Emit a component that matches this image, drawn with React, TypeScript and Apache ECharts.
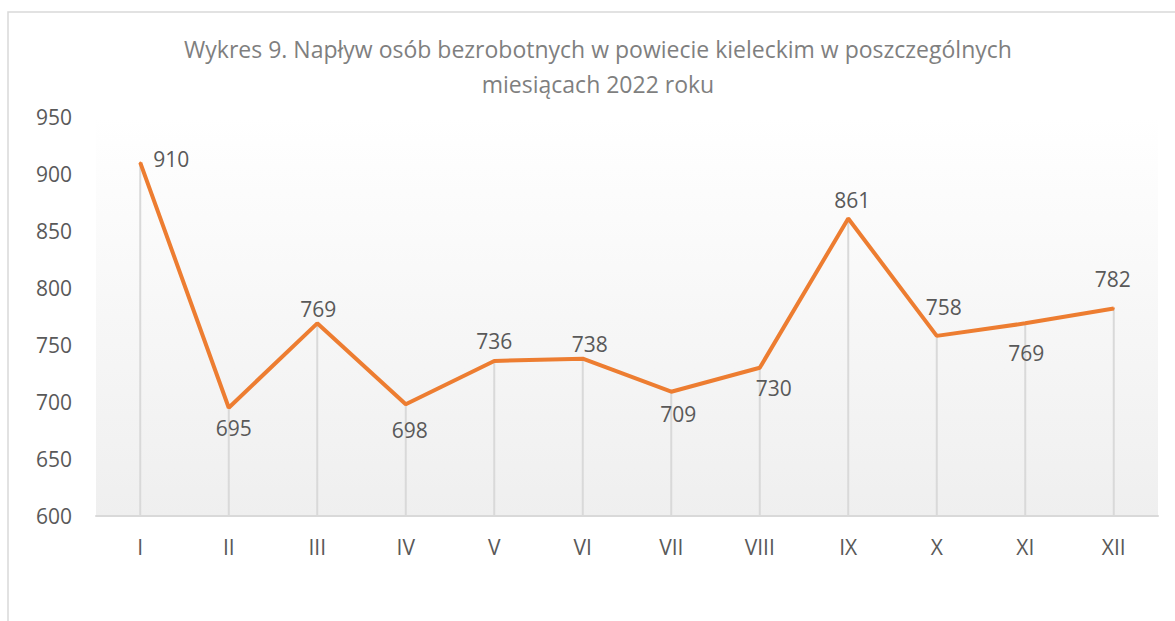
import React, { useEffect, useRef } from "react";
import * as echarts from "echarts";

const titleText =
  "Wykres 9. Napływ osób bezrobotnych w powiecie kieleckim w poszczególnych\nmiesiącach 2022 roku";
const months = ["I", "II", "III", "IV", "V", "VI", "VII", "VIII", "IX", "X", "XI", "XII"];
const values = [910, 695, 769, 698, 736, 738, 709, 730, 861, 758, 769, 782];
const yMin = 600;
const yMax = 950;
const yStep = 50;
// label offsets relative to the point (style only)
const labelOffsets: [number, number][] = [
  [31, -4], [5, 20], [1, -14], [4, 26], [0, -20], [7, -15],
  [7, 22], [14, 20], [4, -18], [7, -29], [1, 30], [-1, -30],
];

export default function App() {
  const ref = useRef<HTMLDivElement>(null);
  useEffect(() => {
    if (!ref.current) return;
    const chart = echarts.init(ref.current, null, { renderer: "svg" });
    const font = "'Open Sans', 'Noto Sans', sans-serif";
    chart.setOption({
      animation: false,
      backgroundColor: "#ffffff",
      title: {
        text: titleText,
        left: 593,
        top: 26,
        textAlign: "center",
        textStyle: {
          fontFamily: font,
          fontSize: 23,
          fontWeight: "normal",
          color: "#7f7f7f",
          lineHeight: 35,
        },
      },
      graphic: [
        {
          type: "rect",
          shape: { x: 8, y: 12, width: 1200, height: 700 },
          style: { fill: "none", stroke: "#d9d9d9", lineWidth: 1.5 },
          silent: true,
          z: -10,
        },
      ],
      grid: {
        left: 96,
        right: 17,
        top: 117,
        bottom: 105,
        show: true,
        borderWidth: 0,
        backgroundColor: new echarts.graphic.LinearGradient(0, 0, 0, 1, [
          { offset: 0, color: "#ffffff" },
          { offset: 1, color: "#efefef" },
        ]),
      },
      xAxis: {
        type: "category",
        data: months,
        boundaryGap: true,
        axisLine: { show: true, lineStyle: { color: "#d9d9d9", width: 2 } },
        axisTick: { show: false },
        splitLine: { show: false },
        axisLabel: {
          color: "#595959",
          fontFamily: font,
          fontSize: 21,
          margin: 20,
        },
      },
      yAxis: {
        type: "value",
        min: yMin,
        max: yMax,
        interval: yStep,
        axisLine: { show: false },
        axisTick: { show: false },
        splitLine: { show: false },
        axisLabel: {
          color: "#595959",
          fontFamily: font,
          fontSize: 21,
          margin: 24,
        },
      },
      series: [
        {
          type: "bar",
          data: values,
          barWidth: 2,
          itemStyle: { color: "#d9d9d9" },
          silent: true,
          z: 1,
        },
        {
          type: "line",
          data: values.map((v, i) => ({
            value: v,
            label: { offset: labelOffsets[i] },
          })),
          symbol: "circle",
          symbolSize: 2,
          showSymbol: true,
          itemStyle: { color: "#ED7D31" },
          lineStyle: { color: "#ED7D31", width: 4 },
          label: {
            show: true,
            position: "inside",
            color: "#595959",
            fontFamily: font,
            fontSize: 21,
          },
          z: 3,
        },
      ],
    });
    return () => chart.dispose();
  }, []);
  return (
    <div
      ref={ref}
      style={{ position: "fixed", left: 0, top: 0, width: 1175, height: 621 }}
    />
  );
}
